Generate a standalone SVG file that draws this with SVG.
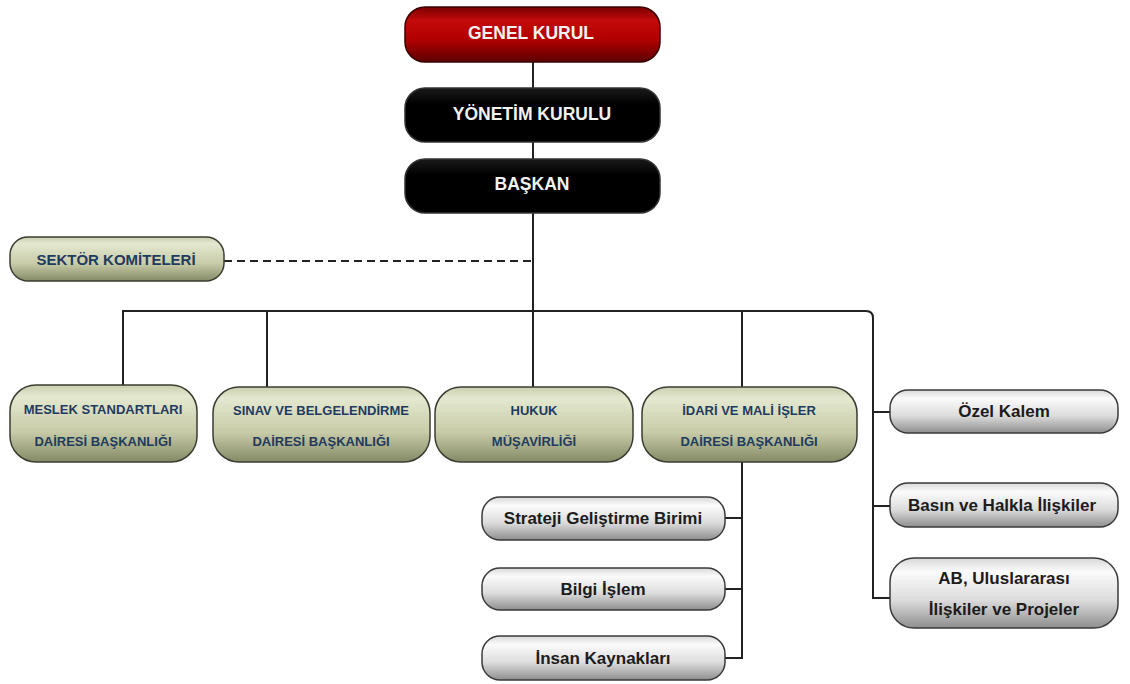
<svg xmlns="http://www.w3.org/2000/svg" width="1130" height="684" viewBox="0 0 1130 684">
<defs>
<linearGradient id="gRed" x1="0" y1="0" x2="0" y2="1">
<stop offset="0" stop-color="#7a0000"/>
<stop offset="0.25" stop-color="#c40a0a"/>
<stop offset="0.6" stop-color="#b00000"/>
<stop offset="1" stop-color="#5c0000"/>
</linearGradient>
<linearGradient id="gBlack" x1="0" y1="0" x2="0" y2="1">
<stop offset="0" stop-color="#1a1a1a"/>
<stop offset="0.3" stop-color="#000"/>
<stop offset="1" stop-color="#000"/>
</linearGradient>
<linearGradient id="gGreen" x1="0" y1="0" x2="0" y2="1">
<stop offset="0" stop-color="#c9cfae"/>
<stop offset="0.15" stop-color="#e4e8d0"/>
<stop offset="0.6" stop-color="#c8cca8"/>
<stop offset="1" stop-color="#858a66"/>
</linearGradient>
<linearGradient id="gGray" x1="0" y1="0" x2="0" y2="1">
<stop offset="0" stop-color="#d8d8d8"/>
<stop offset="0.2" stop-color="#fbfbfb"/>
<stop offset="0.6" stop-color="#dcdcdc"/>
<stop offset="1" stop-color="#8e8e8e"/>
</linearGradient>
</defs>
<style>
.ln{fill:none;stroke:#222;stroke-width:2}
.dash{fill:none;stroke:#222;stroke-width:2;stroke-dasharray:8,5}
.red{fill:url(#gRed);stroke:#3a0000;stroke-width:1.5}
.blk{fill:url(#gBlack);stroke:#333;stroke-width:1.5}
.grn{fill:url(#gGreen);stroke:#3c3c32;stroke-width:1.5}
.gry{fill:url(#gGray);stroke:#3a3a3a;stroke-width:1.5}
text{font-family:"Liberation Sans",Arial,sans-serif;font-weight:bold;text-anchor:middle;dominant-baseline:central}
.tw{fill:#f2f2f2;font-size:17.5px}
.tg{fill:#1f3b5e;font-size:13px}
.td{fill:#1c1c1c;font-size:17px}
</style>
<g id="connectors">
<line class="ln" x1="533" y1="62" x2="533" y2="387"/>
<path class="dash" d="M224 261 H533"/>
<path class="ln" d="M123 385 V311 H866 Q873 311 873 318 V598"/>
<line class="ln" x1="267" y1="311" x2="267" y2="387"/>
<line class="ln" x1="742" y1="311" x2="742" y2="387"/>
<line class="ln" x1="873" y1="412" x2="890" y2="412"/>
<line class="ln" x1="873" y1="506" x2="890" y2="506"/>
<line class="ln" x1="872" y1="598" x2="890" y2="598"/>
<path class="ln" d="M742 462 V658 H725"/>
<line class="ln" x1="725" y1="518" x2="742" y2="518"/>
<line class="ln" x1="725" y1="589" x2="742" y2="589"/>
</g>
<g id="genel-kurul"><rect class="red" x="405" y="7" width="255" height="55" rx="20"/><text class="tw" x="531" y="33">GENEL KURUL</text></g>
<g id="yonetim-kurulu"><rect class="blk" x="405" y="88" width="255" height="54" rx="20"/><text class="tw" x="532" y="114">YÖNETİM KURULU</text></g>
<g id="baskan"><rect class="blk" x="405" y="159" width="255" height="54" rx="20"/><text class="tw" x="532" y="184">BAŞKAN</text></g>
<g id="sektor-komiteleri"><rect class="grn" x="10" y="237" width="214" height="44" rx="18"/><text class="tg" x="116" y="259" style="font-size:15px">SEKTÖR KOMİTELERİ</text></g>
<g id="meslek"><rect class="grn" x="10" y="385" width="187" height="77" rx="26"/><text class="tg" x="103" y="409">MESLEK STANDARTLARI</text><text class="tg" x="103" y="441">DAİRESİ BAŞKANLIĞI</text></g>
<g id="sinav"><rect class="grn" x="213" y="387" width="217" height="75" rx="26"/><text class="tg" x="321" y="410">SINAV VE BELGELENDİRME</text><text class="tg" x="321" y="441">DAİRESİ BAŞKANLIĞI</text></g>
<g id="hukuk"><rect class="grn" x="435" y="387" width="198" height="75" rx="26"/><text class="tg" x="534" y="410">HUKUK</text><text class="tg" x="534" y="441">MÜŞAVİRLİĞİ</text></g>
<g id="idari"><rect class="grn" x="642" y="387" width="215" height="75" rx="26"/><text class="tg" x="749" y="410">İDARİ VE MALİ İŞLER</text><text class="tg" x="749" y="441">DAİRESİ BAŞKANLIĞI</text></g>
<g id="ozel-kalem"><rect class="gry" x="890" y="390" width="228" height="43" rx="18"/><text class="td" x="1004" y="411">Özel Kalem</text></g>
<g id="basin"><rect class="gry" x="890" y="483" width="228" height="44" rx="18"/><text class="td" x="1002" y="505">Basın ve Halkla İlişkiler</text></g>
<g id="ab"><rect class="gry" x="890" y="558" width="228" height="70" rx="24"/><text class="td" x="1004" y="578">AB, Uluslararası</text><text class="td" x="1004" y="609">İlişkiler ve Projeler</text></g>
<g id="strateji"><rect class="gry" x="482" y="497" width="243" height="43" rx="18"/><text class="td" x="603" y="518">Strateji Geliştirme Birimi</text></g>
<g id="bilgi"><rect class="gry" x="482" y="568" width="243" height="42" rx="18"/><text class="td" x="603" y="589">Bilgi İşlem</text></g>
<g id="insan"><rect class="gry" x="482" y="636" width="243" height="44" rx="18"/><text class="td" x="603" y="658">İnsan Kaynakları</text></g>
</svg>
